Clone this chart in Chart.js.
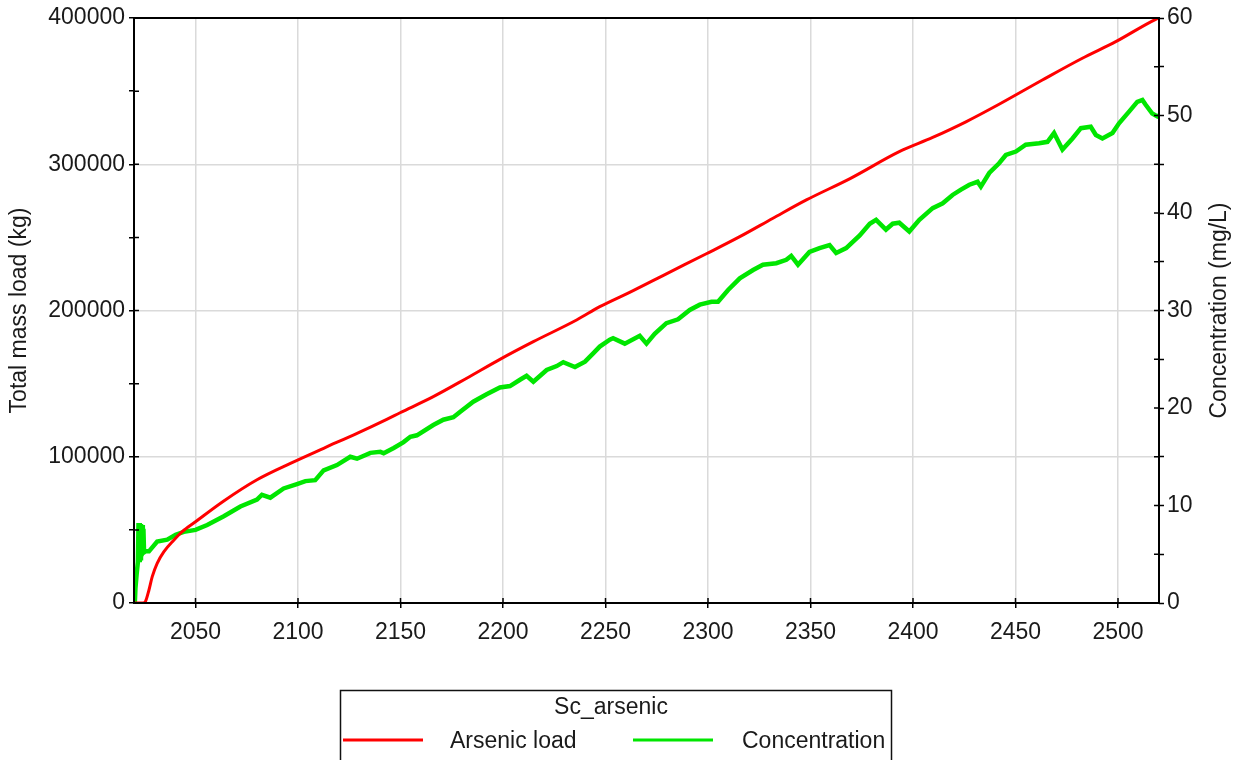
<!DOCTYPE html>
<html>
<head>
<meta charset="utf-8">
<script src="https://cdn.jsdelivr.net/npm/chart.js@4.4.1/dist/chart.umd.min.js"></script>
<style>
  html, body { margin: 0; padding: 0; background: #fff; overflow: hidden; }
  canvas { display: block; }
</style>
</head>
<body>
<canvas id="chart" width="1240" height="760"></canvas>
<script>
// Arsenic load (kg)
const loadYears = [2020, 2024.5, 2025.6, 2027.3, 2028.9, 2031.3, 2034.6, 2039.5, 2043.5, 2050,
  2063.8, 2080, 2096.3, 2112.5, 2128.8, 2143.3, 2149.8, 2166, 2182.3, 2198.5, 2214.8,
  2235.9, 2247.2, 2263.5, 2279.7, 2299.2, 2315.5, 2331.7, 2348, 2369.3, 2393.3, 2409.6,
  2425.8, 2442, 2463.1, 2482.6, 2498.9, 2518.4, 2520];
const loadValues = [0, 0, 1000, 8900, 18000, 27100, 35100, 43100, 48800, 55600,
  69800, 84300, 95500, 105800, 116000, 125600, 130100, 141100, 153700, 166600, 178700,
  193500, 202600, 213600, 225100, 238800, 250500, 263100, 275600, 290200, 308600, 318300,
  329000, 341000, 357600, 372500, 383800, 399100, 400000];

// Concentration (mg/L)
const concYears = [2020.4, 2020.7, 2021.3, 2021.9, 2022.2, 2022.5, 2022.8, 2023.1, 2023.4, 2023.7,
  2024.0, 2024.3, 2024.6, 2024.9, 2025.6, 2027.3, 2031.3, 2036.2, 2040.3, 2044.3, 2050,
  2055.7, 2063.8, 2071.9, 2080, 2082.4, 2086.5, 2093, 2099.5, 2103.6, 2108.4, 2112.5,
  2119, 2125.5, 2128.8, 2135.3, 2140.2, 2141.8, 2146.7, 2151.5, 2154.8, 2158, 2166,
  2170.9, 2175.8, 2179, 2185.5, 2192, 2198.5, 2203.4, 2208.3, 2211.5, 2214.8, 2221.3,
  2226.2, 2229.4, 2235.1, 2240, 2244, 2247.2, 2252.1, 2253.7, 2259.4, 2266.7, 2270,
  2274, 2279.7, 2285.4, 2291.1, 2296, 2301.7, 2304.9, 2309.8, 2315.5, 2322, 2326.8,
  2333.3, 2338.2, 2340.6, 2343.9, 2349.5, 2354.4, 2359.3, 2362.5, 2367.4, 2374, 2378.9,
  2382, 2386.8, 2390.1, 2393.3, 2398.2, 2403.1, 2409.6, 2414.5, 2419.3, 2423.4, 2427.5,
  2431.5, 2433.1, 2437.2, 2442, 2445.3, 2450.2, 2455, 2461.5, 2465.6, 2468.8, 2472.9,
  2477.8, 2481.9, 2486.7, 2489.2, 2492.4, 2497.3, 2500.5, 2505.4, 2509.4, 2511.9,
  2513.5, 2516.7, 2519.2, 2520];
const concValues = [0, 1.5, 3.0, 4.2, 8.2, 4.4, 8.2, 4.6, 8.1, 4.8,
  8.0, 5.0, 7.6, 5.2, 5.3, 5.3, 6.3, 6.5, 7.0, 7.3, 7.5,
  8.0, 8.9, 9.9, 10.6, 11.1, 10.8, 11.75, 12.2, 12.5, 12.6, 13.6,
  14.15, 15.0, 14.8, 15.4, 15.5, 15.35, 15.9, 16.5, 17.05, 17.2, 18.25,
  18.8, 19.05, 19.6, 20.65, 21.4, 22.1, 22.25, 22.9, 23.3, 22.7, 23.9,
  24.3, 24.7, 24.2, 24.75, 25.6, 26.3, 27.0, 27.15, 26.6, 27.4, 26.6,
  27.6, 28.7, 29.1, 30.05, 30.6, 30.9, 30.9, 32.1, 33.3, 34.15, 34.7,
  34.85, 35.2, 35.6, 34.7, 36.0, 36.4, 36.7, 35.9, 36.4, 37.7, 38.9,
  39.3, 38.3, 38.9, 39.0, 38.1, 39.3, 40.5, 41.0, 41.85, 42.4, 42.9,
  43.2, 42.7, 44.1, 45.1, 45.95, 46.3, 47.0, 47.15, 47.3, 48.2, 46.5,
  47.65, 48.7, 48.85, 48.0, 47.65, 48.2, 49.2, 50.4, 51.4, 51.6,
  51.1, 50.2, 49.9, 50.0];

const yearTicks = [2050, 2100, 2150, 2200, 2250, 2300, 2350, 2400, 2450, 2500];
const loadTicks = [0, 50000, 100000, 150000, 200000, 250000, 300000, 350000, 400000];
const loadLabelStep = 100000;
const concTicks = [0, 5, 10, 15, 20, 25, 30, 35, 40, 45, 50, 55, 60];
const concLabelStep = 10;

const seriesNames = ['Arsenic load', 'Concentration'];
const legendTitle = 'Sc_arsenic';
const loadTitle = 'Total mass load (kg)';
const concTitle = 'Concentration (mg/L)';

const RED = '#ff0000';
const GREEN = '#00e600';
const GRID = '#dadada';
const TEXT = '#1a1a1a';
const FONT = '"Liberation Sans", Arial, sans-serif';

Chart.defaults.font.family = FONT;
Chart.defaults.font.size = 23;
Chart.defaults.color = TEXT;

const toPoints = (xs, ys) => xs.map((x, i) => ({ x, y: ys[i] }));

// frame round the plot area, inner halves of the tick marks, right-hand title
const framePlugin = {
  id: 'frame',
  afterDatasetsDraw(chart) {
    const { ctx, chartArea: a, scales } = chart;
    ctx.save();
    ctx.strokeStyle = '#000';
    ctx.lineWidth = 1.5;
    ctx.beginPath();
    yearTicks.forEach(v => {
      const px = scales.x.getPixelForValue(v);
      ctx.moveTo(px, a.bottom); ctx.lineTo(px, a.bottom - 5);
    });
    loadTicks.forEach(v => {
      const py = scales.yLoad.getPixelForValue(v);
      ctx.moveTo(a.left, py); ctx.lineTo(a.left + 5, py);
    });
    concTicks.forEach(v => {
      const py = scales.yConc.getPixelForValue(v);
      ctx.moveTo(a.right, py); ctx.lineTo(a.right - 5, py);
    });
    ctx.stroke();
    ctx.lineWidth = 2;
    ctx.strokeRect(a.left, a.top, a.right - a.left, a.bottom - a.top);

    ctx.fillStyle = TEXT;
    ctx.font = '23px ' + FONT;
    ctx.translate(1220, (a.top + a.bottom) / 2);
    ctx.rotate(-Math.PI / 2);
    ctx.textAlign = 'center';
    ctx.textBaseline = 'middle';
    ctx.fillText(concTitle, 0, 0);
    ctx.restore();
  }
};

// boxed legend below the chart, its lower edge runs off the page
const legendPlugin = {
  id: 'boxLegend',
  afterDraw(chart) {
    const { ctx } = chart;
    const ds = chart.data.datasets;
    ctx.save();
    ctx.strokeStyle = '#111';
    ctx.lineWidth = 1.5;
    ctx.strokeRect(340.5, 690.5, 551, 120);
    ctx.fillStyle = TEXT;
    ctx.font = '23px ' + FONT;
    ctx.textBaseline = 'middle';
    ctx.textAlign = 'center';
    ctx.fillText(legendTitle, 611, 708);
    ctx.textAlign = 'left';
    const items = [
      { x0: 343, x1: 423, tx: 450 },
      { x0: 633, x1: 713, tx: 742 }
    ];
    items.forEach((it, i) => {
      ctx.strokeStyle = ds[i].borderColor;
      ctx.lineWidth = 3;
      ctx.beginPath();
      ctx.moveTo(it.x0, 740); ctx.lineTo(it.x1, 740);
      ctx.stroke();
      ctx.fillText(ds[i].label, it.tx, 742);
    });
    ctx.restore();
  }
};

new Chart(document.getElementById('chart').getContext('2d'), {
  type: 'line',
  data: {
    datasets: [
      {
        label: seriesNames[0],
        data: toPoints(loadYears, loadValues),
        yAxisID: 'yLoad',
        borderColor: RED,
        borderWidth: 3,
        pointRadius: 0,
        cubicInterpolationMode: 'monotone',
        fill: false
      },
      {
        label: seriesNames[1],
        data: toPoints(concYears, concValues),
        yAxisID: 'yConc',
        borderColor: GREEN,
        borderWidth: 4.5,
        pointRadius: 0,
        tension: 0,
        fill: false
      }
    ]
  },
  options: {
    responsive: false,
    animation: false,
    devicePixelRatio: 1,
    layout: { padding: { top: 18, left: 0, right: 0, bottom: 0 } },
    plugins: {
      legend: { display: false },
      tooltip: { enabled: false }
    },
    scales: {
      x: {
        type: 'linear',
        position: 'bottom',
        min: 2020,
        max: 2520,
        afterBuildTicks: s => { s.ticks = yearTicks.map(v => ({ value: v })); },
        afterFit: s => { s.height = 157; },
        ticks: { padding: 11, maxRotation: 0, callback: v => String(v) },
        grid: { color: GRID, lineWidth: 1.5, tickColor: '#000', tickLength: 5, tickWidth: 1.5 },
        border: { display: false }
      },
      yLoad: {
        type: 'linear',
        position: 'left',
        min: 0,
        max: 400000,
        afterBuildTicks: s => { s.ticks = loadTicks.map(v => ({ value: v })); },
        afterFit: s => { s.width = 134; },
        ticks: { padding: 4, callback: v => (v % loadLabelStep === 0 ? String(v) : '') },
        title: { display: true, text: loadTitle, padding: { top: 6, bottom: 0 } },
        grid: {
          color: c => (c.tick && c.tick.value % loadLabelStep === 0 ? GRID : 'rgba(0,0,0,0)'),
          lineWidth: 1.5, tickColor: '#000', tickLength: 5, tickWidth: 1.5
        },
        border: { display: false }
      },
      yConc: {
        type: 'linear',
        position: 'right',
        min: 0,
        max: 60,
        afterBuildTicks: s => { s.ticks = concTicks.map(v => ({ value: v })); },
        afterFit: s => { s.width = 81; },
        ticks: { padding: 3, callback: v => (v % concLabelStep === 0 ? String(v) : '') },
        grid: { drawOnChartArea: false, tickColor: '#000', tickLength: 5, tickWidth: 1.5 },
        border: { display: false }
      }
    }
  },
  plugins: [framePlugin, legendPlugin]
});
</script>
</body>
</html>
